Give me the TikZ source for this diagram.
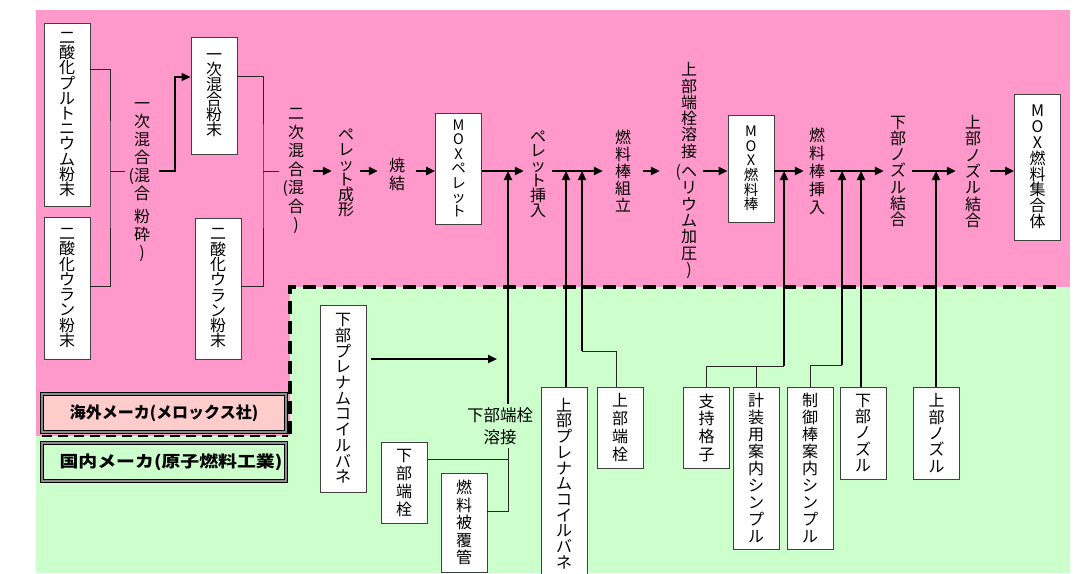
\documentclass[tikz,border=0pt]{standalone}
\usepackage{fontspec}
\usetikzlibrary{arrows.meta}
\newfontfamily\jp{Noto Sans CJK JP}
\definecolor{pinkbg}{HTML}{FF99CC}
\definecolor{greenbg}{HTML}{CCFFCC}
\definecolor{legpink}{HTML}{FFCCCC}
\newcommand\vtfs[1]{\jp\fontsize{16}{#1}\selectfont\lineskiplimit=-100pt\relax}
\newcommand\vtfsm[1]{\jp\fontsize{14.5}{#1}\selectfont\lineskiplimit=-100pt\relax}
\begin{document}
\begin{tikzpicture}[x=1pt,y=-1pt,
  box/.style={draw=black!75,fill=white,line width=0.8pt,minimum width=46pt,inner sep=0pt,align=center},
  vt/.style={inner sep=0pt,align=center},
  arr/.style={line width=2.2pt,-{Triangle[length=9pt,width=8pt]}},
  thinln/.style={line width=1pt,draw=black!85},
  thinarr/.style={line width=1.2pt,-{Triangle[length=9pt,width=8pt]}},
  dashln/.style={line width=3.5pt,dash pattern=on 13pt off 7pt},
  legend/.style={draw=black,line width=1.2pt,double=black!45,double distance=1.2pt,minimum width=244pt,minimum height=38pt,inner sep=0pt,font=\jp\bfseries\fontsize{16}{18}\selectfont}
]
\useasboundingbox (0,0) rectangle (1081,573);
\clip (0,0) rectangle (1081,573);
% backgrounds
\fill[pinkbg] (36,10) rectangle (1070,436);
\fill[greenbg] (36,436) -- (290,436) -- (290,287) -- (1070,287) -- (1070,573) -- (36,573) -- cycle;
\draw[dashln] (290,434) -- (290,287) -- (1062,287);
\draw[line width=2.5pt,dash pattern=on 10pt off 6pt] (42,436) -- (288,436);

% legend
\node[legend,fill=legpink] (leg1) at (164,413) {海外メーカ(メロックス社)};
\node[legend,fill=greenbg] (leg2) at (164,462) {\hspace*{14pt}\scalebox{1.18}[1]{国内メーカ(原子燃料工業)}};

% upper boxes
\node[box,font=\vtfs{15.2},minimum height=183pt] (A) at (67,114.5) {二\\酸\\化\\プ\\ル\\ト\\ニ\\ウ\\ム\\粉\\末};
\node[box,font=\vtfs{15.3},minimum height=142pt] (B) at (67,288) {二\\酸\\化\\ウ\\ラ\\ン\\粉\\末};
\node[box,font=\vtfs{15},minimum height=117pt] (C) at (214,95.5) {一\\次\\混\\合\\粉\\末};
\node[box,font=\vtfs{15.3},minimum height=141pt] (D) at (218,288.5) {二\\酸\\化\\ウ\\ラ\\ン\\粉\\末};
\node[box,font=\vtfsm{14.4},minimum height=111pt] (pellet) at (458.5,168.5) {M\\O\\X\\ペ\\レ\\ッ\\ト};
\node[box,font=\vtfsm{14.6},minimum height=107pt] (rod) at (751,168.5) {M\\O\\X\\燃\\料\\棒};
\node[box,font=\vtfs{15.8},minimum height=146pt] (assy) at (1037.5,167) {M\\O\\X\\燃\\料\\集\\合\\体};

% process texts
\node[vt,font=\vtfs{18},minimum width=34pt] (mix1) at (142,182) {一\\次\\混\\合\\\llap{(}混\\合\\[5pt]粉\\砕\\)};
\node[vt,font=\vtfs{18.5},minimum width=34pt] (mix2) at (296,171) {二\\次\\混\\合\\\llap{(}混\\合\\)};
\node[vt,font=\vtfs{15},minimum width=28pt] (press) at (346,173) {ペ\\レ\\ッ\\ト\\成\\形};
\node[vt,font=\vtfs{18},minimum width=38pt] (sinter) at (397,174) {焼\\結};
\node[vt,font=\vtfs{14.8},minimum width=28pt] (insert) at (538,174) {ペ\\レ\\ッ\\ト\\挿\\入};
\node[vt,font=\vtfs{17},minimum width=40pt] (assemble) at (623,171.5) {燃\\料\\棒\\組\\立};
\node[vt,font=\vtfs{16.3},minimum width=28pt] (weld) at (689,170.5) {上\\部\\端\\栓\\溶\\接\\[4pt]\llap{(}ヘ\\リ\\ウ\\ム\\加\\圧\\)};
\node[vt,font=\vtfs{18},minimum width=26pt] (insert2) at (817,171.5) {燃\\料\\棒\\挿\\入};
\node[vt,font=\vtfs{16.3},minimum width=28pt] (lnoz) at (898,171.5) {下\\部\\ノ\\ズ\\ル\\結\\合};
\node[vt,font=\vtfs{16.3},minimum width=34pt] (unoz) at (973,171.5) {上\\部\\ノ\\ズ\\ル\\結\\合};

% lower boxes
\node[box,font=\vtfs{15.7},minimum height=187pt] (lplen) at (343,398.5) {下\\部\\プ\\レ\\ナ\\ム\\コ\\イ\\ル\\バ\\ネ};
\node[box,font=\vtfs{18},minimum height=81pt] (lplug) at (404,482.5) {下\\部\\端\\栓};
\node[box,font=\vtfs{17.5},minimum height=99pt] (clad) at (464,522.5) {燃\\料\\被\\覆\\管};
\node[box,font=\vtfs{15.7},minimum height=193pt] (uplen) at (564,483.5) {上\\部\\プ\\レ\\ナ\\ム\\コ\\イ\\ル\\バ\\ネ};
\node[box,font=\vtfs{18},minimum height=81pt] (uplug) at (620,427.5) {上\\部\\端\\栓};
\node[box,font=\vtfs{17.7},minimum height=81pt] (grid) at (706.5,427.5) {支\\持\\格\\子};
\node[box,font=\vtfs{16.9},minimum height=162pt] (instr) at (756,468) {計\\装\\用\\案\\内\\シ\\ン\\プ\\ル};
\node[box,font=\vtfs{16.9},minimum height=162pt] (ctrl) at (810,468) {制\\御\\棒\\案\\内\\シ\\ン\\プ\\ル};
\node[box,font=\vtfs{16.3},minimum height=92pt] (lnozb) at (863,433) {下\\部\\ノ\\ズ\\ル};
\node[box,font=\vtfs{16.3},minimum height=92pt] (unozb) at (936.5,433) {上\\部\\ノ\\ズ\\ル};
\node[vt,font=\jp\fontsize{16.5}{22}\selectfont,inner sep=3pt] (weldL) at (500,426) {下部端栓\\溶接};

% coordinates
\coordinate (main) at (0,171);
\coordinate (br1) at (110,171);
\coordinate (br2) at (175,77);
\coordinate (br3) at (263,171);
\coordinate (j1) at (508,171);
\coordinate (j2) at (566,171);
\coordinate (j3) at (582,171);
\coordinate (j4) at (784,171);
\coordinate (j5) at (842,171);
\coordinate (j6) at (861,171);
\coordinate (j7) at (936,171);
\coordinate (a1) at (497,359);
\coordinate (c1) at (508,459);
\coordinate (c2) at (508,511);
\coordinate (c3) at (582,351);
\coordinate (c3b) at (616,351);
\coordinate (c4) at (784,366);
\coordinate (c5) at (842,365);

% brackets
\draw[thinln] ([yshift=45.5pt]A.east) -| (br1) |- ([yshift=2pt]B.east);
\draw[thinln] (br1) -- (mix1.west |- main);
\draw[thinarr] (mix1.east |- main) -| (br2) -- (C.west |- br2);
\draw[thinln] ([yshift=19.5pt]C.east) -| (br3) |- ([yshift=2.5pt]D.east);
\draw[thinln] (br3) -- (mix2.west |- main);

% main flow
\draw[arr] (mix2.east |- main) -- (press.west |- main);
\draw[arr] (press.east |- main) -- (sinter.west |- main);
\draw[arr] (sinter.east |- main) -- (pellet.west |- main);
\draw[arr] (pellet.east |- main) -- (insert.west |- main);
\draw[arr] (insert.east |- main) -- (assemble.west |- main);
\draw[arr,shorten >=15pt] (assemble.east |- main) -- (weld.west |- main);
\draw[arr] (weld.east |- main) -- (rod.west |- main);
\draw[arr] (rod.east |- main) -- (insert2.west |- main);
\draw[arr] (insert2.east |- main) -- (lnoz.west |- main);
\draw[arr] (lnoz.east |- main) -- (unoz.west |- main);
\draw[arr] (unoz.east |- main) -- (assy.west |- main);

% feeds from below
\draw[arr] ([xshift=5pt,yshift=39.5pt]lplen.east) -- (a1);
\draw[arr] (weldL.north -| j1) -- (j1);
\draw[thinln] (weldL.south -| c1) -- (c2) -- (clad.east |- c2);
\draw[thinln] (lplug.east |- c1) -- (c1);
\draw[arr] (uplen.north -| j2) -- (j2);
\draw[thinln] (uplug.north -| c3b) -- (c3b) -- (c3);
\draw[arr] (c3) -- (j3);
\draw[thinln] (grid.north) -- (grid.north |- c4) -- (c4);
\draw[thinln] (instr.north) -- (instr.north |- c4);
\draw[arr] (c4) -- (j4);
\draw[thinln] (ctrl.north) |- (c5);
\draw[arr] (c5) -- (j5);
\draw[arr] (lnozb.north -| j6) -- (j6);
\draw[arr] (unozb.north -| j7) -- (j7);
\end{tikzpicture}
\end{document}
